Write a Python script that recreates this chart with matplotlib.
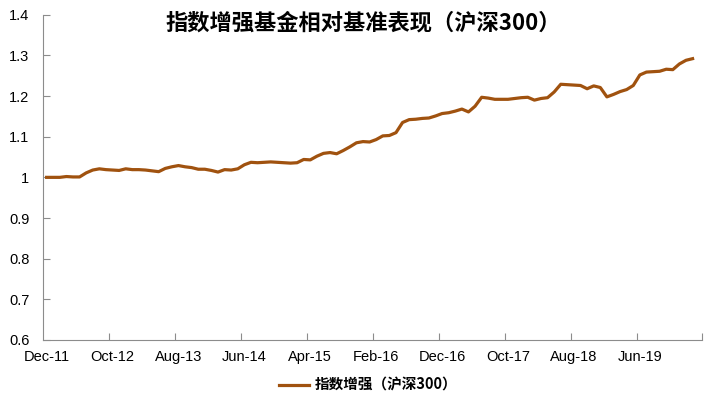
import matplotlib
matplotlib.use("Agg")
import matplotlib.pyplot as plt

plt.rcParams["font.family"] = ["Liberation Sans", "Noto Sans CJK SC", "DejaVu Sans"]

TITLE = "指数增强基金相对基准表现（沪深300）"
SERIES_NAME = "指数增强（沪深300）"

# monthly, Dec-11 .. Feb-20
values = [
    1.000, 1.000, 1.000, 1.002, 1.001, 1.001, 1.011, 1.018, 1.021, 1.019,
    1.018, 1.017, 1.021, 1.019, 1.019, 1.018, 1.016, 1.014, 1.022, 1.026,
    1.029, 1.026, 1.024, 1.020, 1.020, 1.017, 1.013, 1.019, 1.018, 1.021,
    1.031, 1.037, 1.036, 1.037, 1.038, 1.037, 1.036, 1.035, 1.036, 1.044,
    1.043, 1.052, 1.059, 1.061, 1.058, 1.066, 1.075, 1.085, 1.088, 1.087,
    1.093, 1.102, 1.103, 1.110, 1.135, 1.142, 1.143, 1.145, 1.146, 1.151,
    1.157, 1.159, 1.163, 1.168, 1.161, 1.175, 1.197, 1.195, 1.192, 1.192,
    1.192, 1.194, 1.196, 1.197, 1.190, 1.194, 1.196, 1.210, 1.229, 1.228,
    1.227, 1.226, 1.218, 1.225, 1.221, 1.198, 1.204, 1.211, 1.216, 1.226,
    1.252, 1.259, 1.260, 1.261, 1.266, 1.265, 1.279, 1.288, 1.292,
]
tick_labels = ["Dec-11", "Oct-12", "Aug-13", "Jun-14", "Apr-15",
               "Feb-16", "Dec-16", "Oct-17", "Aug-18", "Jun-19"]
y_ticks = [0.6, 0.7, 0.8, 0.9, 1.0, 1.1, 1.2, 1.3, 1.4]
y_tick_labels = ["0.6", "0.7", "0.8", "0.9", "1", "1.1", "1.2", "1.3", "1.4"]

LINE_COLOR = "#A0520F"
AXIS_COLOR = "#8C8C8C"

fig = plt.figure(figsize=(7.08, 3.99), dpi=100)
ax = fig.add_axes([0.0612, 0.148, 0.931, 0.815])

xs = list(range(len(values)))
ax.plot(xs, values, color=LINE_COLOR, linewidth=2.3, solid_joinstyle="round",
        label=SERIES_NAME)

ax.set_xlim(-0.5, len(values) - 0.5)
ax.set_ylim(0.6, 1.4)

ax.set_yticks(y_ticks)
ax.set_yticklabels(y_tick_labels)

# labels centred on categories, tick marks between categories
label_pos = [10 * i for i in range(len(tick_labels))]
ax.set_xticks(label_pos)
ax.set_xticklabels(tick_labels)
ax.tick_params(axis="x", which="major", length=0, pad=7, labelsize=10.5)
ax.set_xticks([10 * i - 0.5 for i in range(1, len(tick_labels) + 1)], minor=True)
ax.tick_params(axis="x", which="minor", direction="in", length=5,
               color=AXIS_COLOR, width=0.8)
ax.tick_params(axis="y", direction="in", length=5, color=AXIS_COLOR, width=0.8,
               pad=10, labelsize=10.5)

for side in ("top", "right"):
    ax.spines[side].set_visible(False)
for side in ("left", "bottom"):
    ax.spines[side].set_color(AXIS_COLOR)
    ax.spines[side].set_linewidth(0.8)

fig.text(0.513, 0.942, TITLE, ha="center", va="center", fontsize=16,
         fontweight="bold", family=["Noto Sans CJK SC", "DejaVu Sans"])

leg = fig.legend(loc="center", bbox_to_anchor=(0.52, 0.035), frameon=False,
                 handlelength=2.0, handletextpad=0.4,
                 prop={"family": ["Noto Sans CJK SC", "DejaVu Sans"],
                       "size": 10.5, "weight": "bold"})

fig.savefig("out.png", dpi=100)
